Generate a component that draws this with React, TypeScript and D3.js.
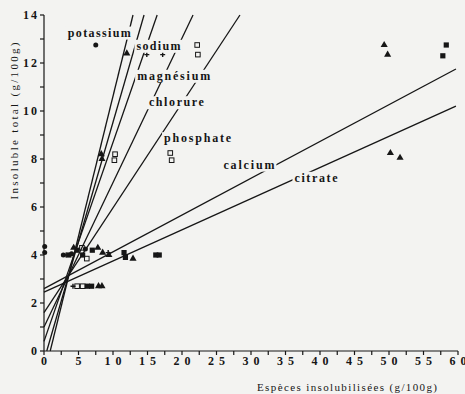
import * as d3 from "d3";

const W = 465;
const H = 394;

// tick labels
const xTickLabels = [0, 5, 10, 15, 20, 25, 30, 35, 40, 45, 50, 55, 60];
const yTickLabels = [0, 2, 4, 6, 8, 10, 12, 14];

// regression lines: name, start point, end point
const lineNames = ["potassium", "sodium", "magnésium", "chlorure", "phosphate", "calcium", "citrate"];
const lineStart = [[0.9, 0], [0.4, 0], [0, 0.4], [0, 1.0], [0, 1.6], [0, 2.6], [0, 2.45]];
const lineEnd = [[12.9, 14], [14.5, 14], [16.4, 14], [21.6, 14], [28.4, 14], [59.7, 11.75], [59.7, 10.2]];

// measured points, grouped by marker
const filledSquares = [[58.3, 12.75], [57.8, 12.3], [16.2, 4.0], [16.7, 4.0], [11.6, 4.1], [11.8, 3.9], [4.8, 4.2], [5.6, 4.0], [7.0, 4.2], [3.6, 4.0], [6.3, 2.7], [6.9, 2.7]];
const filledTriangles = [[12.0, 12.4], [49.3, 12.75], [49.8, 12.35], [50.2, 8.25], [51.6, 8.05], [8.3, 8.2], [8.4, 8.0], [12.9, 3.85], [7.8, 4.3], [8.5, 4.1], [9.4, 4.0], [4.3, 4.3], [7.9, 2.7], [8.4, 2.7]];
const openSquares = [[22.2, 12.75], [22.3, 12.35], [18.3, 8.25], [18.5, 7.95], [10.3, 8.2], [10.2, 7.95], [6.2, 3.85], [5.5, 4.3], [4.8, 2.7], [5.6, 2.7]];
const plusMarks = [[14.9, 12.35], [17.2, 12.35], [9.3, 4.1], [3.2, 4.0], [4.2, 2.7]];
const filledCircles = [[7.5, 12.75], [0.1, 4.35], [0.1, 4.1], [2.8, 4.0], [4.0, 4.05], [6.0, 4.25]];

// label placement (left end of text, baseline) in data units + text width in px
const labelAt = [[3.45, 13.1], [13.4, 12.55], [13.5, 11.3], [15.2, 10.2], [17.4, 8.7], [26.0, 7.6], [36.3, 7.05]];
const labelWidth = [63, 44, 73, 55, 67, 51, 43];

const ink = "#161616";
const paper = "#f3f3f1";
const serif = "'Liberation Serif', 'DejaVu Serif', serif";

const x = d3.scaleLinear().domain([0, 60]).range([44, 458]);
const y = d3.scaleLinear().domain([0, 14]).range([351, 15]);

const xMinor = d3.range(0, 60.1, 2.5);
const yMinor = d3.range(0, 14.1, 1);

export default function App() {
  return (
    <div style={{ position: "fixed", left: 0, top: 0 }}>
      <svg width={W} height={H} style={{ display: "block", background: paper }}>
        {/* regression lines */}
        <g stroke={ink} strokeWidth={1.3} fill="none">
          {lineNames.map((n, i) => (
            <line key={n} x1={x(lineStart[i][0])} y1={y(lineStart[i][1])} x2={x(lineEnd[i][0])} y2={y(lineEnd[i][1])} />
          ))}
        </g>

        {/* points */}
        <g fill={ink}>
          {filledSquares.map((d, i) => (
            <rect key={i} x={x(d[0]) - 2.6} y={y(d[1]) - 2.6} width={5.2} height={5.2} />
          ))}
          {filledTriangles.map((d, i) => (
            <path key={i} d={d3.symbol(d3.symbolTriangle, 22)()} transform={`translate(${x(d[0])},${y(d[1])})`} />
          ))}
          {filledCircles.map((d, i) => (
            <circle key={i} cx={x(d[0])} cy={y(d[1])} r={2.5} />
          ))}
        </g>
        <g fill="none" stroke={ink} strokeWidth={1}>
          {openSquares.map((d, i) => (
            <rect key={i} x={x(d[0]) - 2.3} y={y(d[1]) - 2.3} width={4.6} height={4.6} />
          ))}
          {plusMarks.map((d, i) => (
            <path key={i} d={`M${x(d[0]) - 2.5},${y(d[1])}h5M${x(d[0])},${y(d[1]) - 2.5}v5`} strokeWidth={1.4} />
          ))}
        </g>

        {/* line labels over white patches */}
        {lineNames.map((n, i) => {
          const lx = x(labelAt[i][0]);
          const ly = y(labelAt[i][1]);
          return (
            <g key={n}>
              <rect x={lx - 2} y={ly - 10} width={labelWidth[i] + 4} height={13} fill={paper} />
              <text x={lx} y={ly} fontFamily={serif} fontWeight="bold" fontSize={12} fill={ink}
                textLength={labelWidth[i]} lengthAdjust="spacing">{n}</text>
            </g>
          );
        })}

        {/* axes */}
        <g stroke={ink} strokeWidth={1.2}>
          <line x1={x(0)} x2={x(60)} y1={y(0)} y2={y(0)} />
          <line x1={x(0)} x2={x(0)} y1={y(0)} y2={y(14)} />
          {xMinor.map((t) => (
            <line key={t} x1={x(t)} x2={x(t)} y1={y(0)} y2={y(0) + 4} />
          ))}
          {yMinor.map((t) => (
            <line key={t} x1={x(0) - 4} x2={x(0)} y1={y(t)} y2={y(t)} />
          ))}
        </g>
        <g fontFamily={serif} fontWeight="bold" fontSize={12} fill={ink}>
          {xTickLabels.map((t) => (
            <text key={t} x={x(t)} y={y(0) + 14} textAnchor="middle"
              textLength={t < 10 ? undefined : 17} lengthAdjust="spacing">{t}</text>
          ))}
          {yTickLabels.map((t) => (
            <text key={t} x={37} y={y(t) + 4} textAnchor="end"
              textLength={t < 10 ? undefined : 14} lengthAdjust="spacing">{t}</text>
          ))}
        </g>
        <text x={347} y={391} textAnchor="middle" fontFamily={serif} fontSize={11} fill={ink}
          textLength={180} lengthAdjust="spacing">Espèces insolubilisées (g/100g)</text>
        <text transform="translate(18,121) rotate(-90)" textAnchor="middle" fontFamily={serif} fontSize={11} fill={ink}
          textLength={157} lengthAdjust="spacing">Insoluble total (g/100g)</text>
      </svg>
    </div>
  );
}
